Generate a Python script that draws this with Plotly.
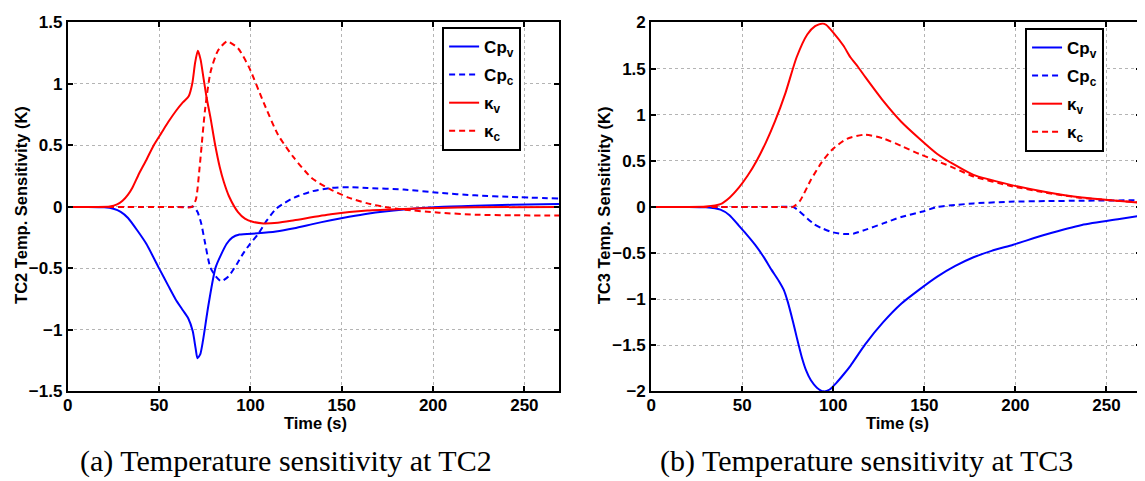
import plotly.graph_objects as go

# ---------------- data ----------------
# Panel (a): TC2
a_cpv_t = [0, 10, 20, 25, 29, 33, 38, 43, 50, 55, 59, 63, 66, 68.4, 70, 71, 72.5, 74, 77, 81, 87, 90, 94, 104, 114, 124, 134, 144, 154, 164, 184, 203, 223, 243, 269]
a_cpv_v = [0, 0, -0.003, -0.015, -0.04, -0.09, -0.19, -0.3, -0.5, -0.64, -0.75, -0.84, -0.907, -1.01, -1.15, -1.23, -1.2, -1.09, -0.80, -0.49, -0.30, -0.25, -0.225, -0.215, -0.20, -0.173, -0.14, -0.108, -0.08, -0.055, -0.021, 0.0, 0.01, 0.017, 0.024]

a_cpc_t = [0, 60, 67, 69, 71, 73, 75, 78, 81, 84, 88, 92.8, 96, 99.8, 104, 109, 114, 119, 124, 134, 144, 154, 164, 184, 203, 223, 243, 269]
a_cpc_v = [0, 0, 0, 0, -0.04, -0.13, -0.28, -0.49, -0.565, -0.605, -0.565, -0.46, -0.38, -0.30, -0.226, -0.11, -0.016, 0.035, 0.076, 0.128, 0.154, 0.16, 0.154, 0.141, 0.115, 0.094, 0.081, 0.068]

a_kv_t = [0, 15, 23, 27, 30, 33, 35.3, 39, 43.3, 47, 51.2, 55, 59.2, 63, 66.2, 68.2, 69.7, 71.2, 72.7, 74.2, 76, 78.2, 80.5, 83.2, 85.5, 88.2, 93.2, 97, 101.2, 107.2, 115, 124, 144, 164, 184, 203, 223, 269]
a_kv_v = [0, 0, 0.003, 0.02, 0.05, 0.1, 0.154, 0.27, 0.39, 0.5, 0.60, 0.69, 0.78, 0.85, 0.90, 1.006, 1.17, 1.27, 1.20, 1.06, 0.89, 0.72, 0.52, 0.325, 0.2, 0.089, -0.042, -0.095, -0.121, -0.134, -0.128, -0.108, -0.06, -0.029, -0.016, -0.008, -0.003, 0.0]

a_kc_t = [0, 60, 68, 70.2, 72.2, 75.2, 78.2, 82.2, 87.2, 93.2, 99.2, 107.2, 115.1, 123.8, 133.7, 143.8, 153.7, 163.6, 173.6, 183.5, 203.4, 223.3, 243.2, 269]
a_kc_v = [0, 0, 0, 0.063, 0.325, 0.796, 1.10, 1.27, 1.347, 1.29, 1.137, 0.85, 0.587, 0.40, 0.233, 0.142, 0.076, 0.031, 0.0, -0.021, -0.047, -0.063, -0.068, -0.07]

# Panel (b): TC3
b_cpv_t = [0, 20, 30, 38, 43, 48, 52, 57, 62, 66, 70, 72.8, 75, 77.8, 80, 82.7, 85, 87.7, 91, 94.6, 98, 101.6, 105.5, 109.5, 117.5, 127.4, 137.3, 147.2, 157.1, 167, 177, 186.9, 198.8, 216.7, 236.5, 256.3, 269]
b_cpv_v = [0, 0, -0.005, -0.03, -0.09, -0.2, -0.29, -0.41, -0.55, -0.68, -0.80, -0.90, -1.03, -1.24, -1.42, -1.63, -1.77, -1.88, -1.96, -2.0, -1.98, -1.91, -1.82, -1.72, -1.49, -1.25, -1.05, -0.897, -0.756, -0.64, -0.546, -0.477, -0.41, -0.30, -0.196, -0.133, -0.095]

b_cpc_t = [0, 70, 77.8, 81, 85.7, 89.7, 93.7, 99.6, 105.6, 111, 117.5, 127.4, 137.3, 149.2, 157.1, 167, 177, 196.8, 216.7, 236.5, 269]
b_cpc_v = [0, 0, 0, -0.04, -0.126, -0.19, -0.231, -0.275, -0.294, -0.29, -0.249, -0.179, -0.109, -0.049, 0.0, 0.021, 0.038, 0.056, 0.063, 0.067, 0.073]

b_kv_t = [0, 20, 30, 38, 43, 48, 53, 58, 63, 67.9, 73.8, 79.8, 85.7, 90, 94.2, 96, 100, 105.5, 109.5, 113.5, 117.5, 127.4, 137.3, 147.2, 157.1, 167, 177, 196.8, 216.7, 236.5, 269]
b_kv_v = [0, 0, 0.005, 0.03, 0.1, 0.206, 0.34, 0.504, 0.7, 0.924, 1.24, 1.62, 1.87, 1.96, 1.99, 1.975, 1.89, 1.75, 1.62, 1.52, 1.41, 1.15, 0.924, 0.742, 0.574, 0.452, 0.347, 0.242, 0.161, 0.101, 0.045]

b_kc_t = [0, 70, 77.8, 81.7, 87.7, 93.7, 99.6, 107.5, 117.5, 127.4, 137.3, 147.2, 157.1, 167, 177, 196.8, 216.7, 236.5, 269]
b_kc_v = [0, 0, 0, 0.066, 0.294, 0.486, 0.626, 0.738, 0.784, 0.742, 0.662, 0.574, 0.497, 0.416, 0.33, 0.23, 0.154, 0.098, 0.048]

series_names = ["Cp<sub>v</sub>", "Cp<sub>c</sub>", "κ<sub>v</sub>", "κ<sub>c</sub>"]
x_ticks = [0, 50, 100, 150, 200, 250]
a_y_ticks = [-1.5, -1, -0.5, 0, 0.5, 1, 1.5]
b_y_ticks = [-2, -1.5, -1, -0.5, 0, 0.5, 1, 1.5, 2]
captions = ["(a) Temperature sensitivity at TC2", "(b) Temperature sensitivity at TC3"]
y_titles = ["TC2 Temp. Sensitivity (K)", "TC3 Temp. Sensitivity (K)"]
x_title = "Time (s)"

# ---------------- figure ----------------
W, H = 1145, 481
BLUE, RED = "#0000ff", "#ff0000"
DASH = "6px,4px"
styles = [(BLUE, "solid"), (BLUE, DASH), (RED, "solid"), (RED, DASH)]

fig = go.Figure()
panels = [
    ([(a_cpv_t, a_cpv_v), (a_cpc_t, a_cpc_v), (a_kv_t, a_kv_v), (a_kc_t, a_kc_v)], "x", "y", "legend"),
    ([(b_cpv_t, b_cpv_v), (b_cpc_t, b_cpc_v), (b_kv_t, b_kv_v), (b_kc_t, b_kc_v)], "x2", "y2", "legend2"),
]
for data, xa, ya, lg in panels:
    for i, ((t, v), (col, dash)) in enumerate(zip(data, styles)):
        fig.add_trace(go.Scatter(
            x=t, y=v, mode="lines", name=series_names[i],
            line=dict(color=col, width=2, dash=dash, shape="spline", smoothing=0.6),
            xaxis=xa, yaxis=ya, legend=lg, legendgroup=lg + str(i),
        ))

# target picture pixel -> paper fraction (calibrated on earlier renders)
OX = 8.0
OY, SY = 16.0, 0.966


def px_x(p):
    return (p - OX) / W


def px_y(p):
    return min(1.0, 1 - ((p - OY) / SY) / H)


tickfont = dict(family="Liberation Sans, Arial, sans-serif", size=17, color="black", weight="bold")
common_x = dict(range=[0, 269], tickvals=x_ticks, showgrid=True, gridcolor="#b4b4b4", griddash="dot",
                gridwidth=1, showline=True, linecolor="black", linewidth=2, mirror="ticks",
                ticks="inside", ticklen=5, tickwidth=1.5, tickcolor="black", tickfont=tickfont,
                zeroline=False, fixedrange=True, ticklabeloverflow="allow", ticklabelstandoff=-3)
common_y = dict(showgrid=True, gridcolor="#b4b4b4", griddash="dot", gridwidth=1, showline=True,
                linecolor="black", linewidth=2, mirror="ticks", ticks="inside", ticklen=5,
                tickwidth=1.5, tickcolor="black", tickfont=tickfont, zeroline=False, fixedrange=True,
                ticklabeloverflow="allow")

y_top, y_bot = 21.5, 392.5
legend_font = dict(family="Liberation Sans, Arial, sans-serif", size=17, color="black", weight="bold")
fig.update_layout(
    width=W, height=H,
    margin=dict(l=0, r=0, t=0, b=0),
    paper_bgcolor="white", plot_bgcolor="white",
    xaxis=dict(domain=[px_x(63), px_x(556.5)], anchor="y", **common_x),
    yaxis=dict(domain=[px_y(y_bot), px_y(y_top)], anchor="x", range=[-1.5, 1.5], tickvals=a_y_ticks, **common_y),
    xaxis2=dict(domain=[px_x(649), px_x(1141)], anchor="y2", **common_x),
    yaxis2=dict(domain=[px_y(y_bot), px_y(y_top)], anchor="x2", range=[-2, 2], tickvals=b_y_ticks, **common_y),
    legend=dict(x=px_x(439), y=px_y(26), xanchor="left", yanchor="top", bgcolor="white",
                bordercolor="black", borderwidth=2, tracegroupgap=3, font=legend_font),
    legend2=dict(x=px_x(1024.5), y=px_y(27), xanchor="left", yanchor="top", bgcolor="white",
                 bordercolor="black", borderwidth=2, tracegroupgap=3, font=legend_font),
    showlegend=True,
)

title_font = dict(family="Liberation Sans, Arial, sans-serif", size=16.5, color="black", weight="bold")
cap_font = dict(family="Liberation Serif, Times New Roman, serif", size=30, color="black")
ann = []
for cx in (311.8, 896.3):
    ann.append(dict(text=x_title, x=px_x(cx), y=px_y(424.5), xref="paper", yref="paper",
                    xanchor="center", yanchor="middle", showarrow=False, font=title_font))
for cx, txt in zip((16, 602), y_titles):
    ann.append(dict(text=txt, x=px_x(cx), y=px_y(205), xref="paper", yref="paper",
                    xanchor="center", yanchor="middle", showarrow=False, textangle=-90, font=title_font))
for cx, txt in zip((281.8, 865.4), captions):
    ann.append(dict(text=txt, x=px_x(cx), y=px_y(463), xref="paper", yref="paper",
                    xanchor="center", yanchor="middle", showarrow=False, font=cap_font))
fig.update_layout(annotations=ann)

fig.write_html("out.html")
